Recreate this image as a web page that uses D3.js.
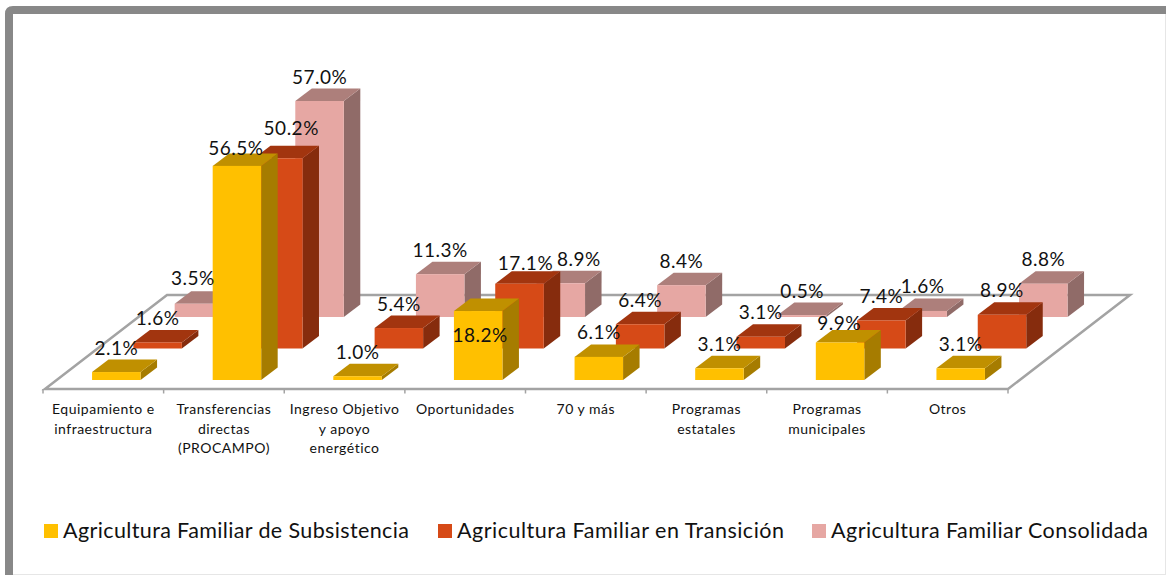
<!DOCTYPE html>
<html><head><meta charset="utf-8">
<script src="https://cdn.jsdelivr.net/npm/d3@7/dist/d3.min.js"></script>
<style>html,body{margin:0;padding:0;background:#fff}svg{display:block}text{font-family:Lato,"Open Sans",sans-serif;fill:#111}</style>
</head><body><svg id="c" width="1166" height="575"></svg>
<script>
const categories=["Equipamiento e|infraestructura","Transferencias|directas|(PROCAMPO)","Ingreso Objetivo|y apoyo|energético","Oportunidades","70 y más","Programas|estatales","Programas|municipales","Otros"];
const seriesNames=["Agricultura Familiar de Subsistencia","Agricultura Familiar en Transición","Agricultura Familiar Consolidada"];
const subsistencia=[2.1,56.5,1.0,18.2,6.1,3.1,9.9,3.1];
const transicion=[1.6,50.2,5.4,17.1,6.4,3.1,7.4,8.9];
const consolidada=[3.5,57.0,11.3,8.9,8.4,0.5,1.6,8.8];
const seriesValues=[subsistencia,transicion,consolidada];
const faceColors=["#ffc000","#d64a17","#e6a7a3"];
const topColors=["#c09000","#a2350f","#ad7f7b"];
const sideColors=["#a67c00","#862c0d","#906b68"];
// label nudges keyed "series-category", reproducing the reference's hand placement
const nudges={"0-1":[-1,6.5],"1-1":[13,-5.5],"2-0":[-6,-1],"0-3":[2,48.5],"1-3":[6,4],"2-3":[18,0],"0-6":[-1,5]};

const svg=d3.select("#c");
// frame
svg.append("path").attr("d","M9 575V14Q9 10 13 10H1166").attr("fill","none").attr("stroke","#888").attr("stroke-width",8);
svg.append("line").attr("x1",13).attr("x2",1166).attr("y1",574.5).attr("y2",574.5).attr("stroke","#e6e6e6");
svg.append("line").attr("x1",1165.5).attr("x2",1165.5).attr("y1",14).attr("y2",575).attr("stroke","#e6e6e6");

const x=d3.scaleBand().domain(d3.range(categories.length)).range([43,1008]);
const h=d3.scaleLinear().domain([0,57]).range([0,216]);
const baseY=d3.scalePoint().domain([0,1,2]).range([380,317]);
const shiftX=d3.scalePoint().domain([0,1,2]).range([0,82.6]);
const barW=48.5,depX=16.5,depY=12.5,barOffset=13;
const left=(s,c)=>x(c)+x.bandwidth()/2-barW/2+barOffset+shiftX(s);

// floor
const floorY=389,backY=295;
svg.append("path").attr("d",d3.line()([[45,floorY],[167,backY],[1130,backY],[1008,floorY]])+"Z")
  .attr("fill","#fff").attr("stroke","#a3a3a3").attr("stroke-width",2.5);
d3.range(categories.length+1).forEach(i=>{
  const tx=i<categories.length?x(i):1008;
  svg.append("line").attr("x1",tx).attr("x2",tx).attr("y1",floorY).attr("y2",floorY+4.5).attr("stroke","#a3a3a3").attr("stroke-width",1.5);
});

// bars, back series first
const g=svg.append("g");
[2,1,0].forEach(s=>{
  seriesValues[s].forEach((v,c)=>{
    const l=left(s,c),r=l+barW,b=baseY(s),t=b-h(v);
    g.append("path").attr("fill",sideColors[s]).attr("d",d3.line()([[r,b],[r+depX,b-depY],[r+depX,t-depY],[r,t]])+"Z");
    g.append("path").attr("fill",topColors[s]).attr("d",d3.line()([[l,t],[l+depX,t-depY],[r+depX,t-depY],[r,t]])+"Z");
    g.append("rect").attr("x",l).attr("y",t).attr("width",barW).attr("height",b-t).attr("fill",faceColors[s]);
  });
});
// value labels
seriesValues.forEach((vals,s)=>vals.forEach((v,c)=>{
  const n=nudges[s+"-"+c]||[0,0];
  svg.append("text").attr("x",left(s,c)+barW/2+n[0]).attr("y",baseY(s)-h(v)-17.5+n[1])
    .attr("text-anchor","middle").attr("font-size",19).attr("letter-spacing",0.5).text(v.toFixed(1)+"%");
}));
// category labels
categories.forEach((cat,c)=>{
  cat.split("|").forEach((ln,i)=>{
    svg.append("text").attr("x",x(c)+x.bandwidth()/2).attr("y",414+i*19.5)
      .attr("text-anchor","middle").attr("font-size",14).attr("letter-spacing",0.5).text(ln);
  });
});
// legend
const legendX=d3.scaleOrdinal().domain([0,1,2]).range([44,438,812]);
const legendW=[346,327,317];
seriesNames.forEach((n,s)=>{
  svg.append("rect").attr("x",legendX(s)).attr("y",524).attr("width",14).attr("height",14).attr("fill",faceColors[s]);
  svg.append("text").attr("x",legendX(s)+19).attr("y",538).attr("font-size",21.5)
    .attr("textLength",legendW[s]).attr("lengthAdjust","spacing").text(n);
});
</script></body></html>
